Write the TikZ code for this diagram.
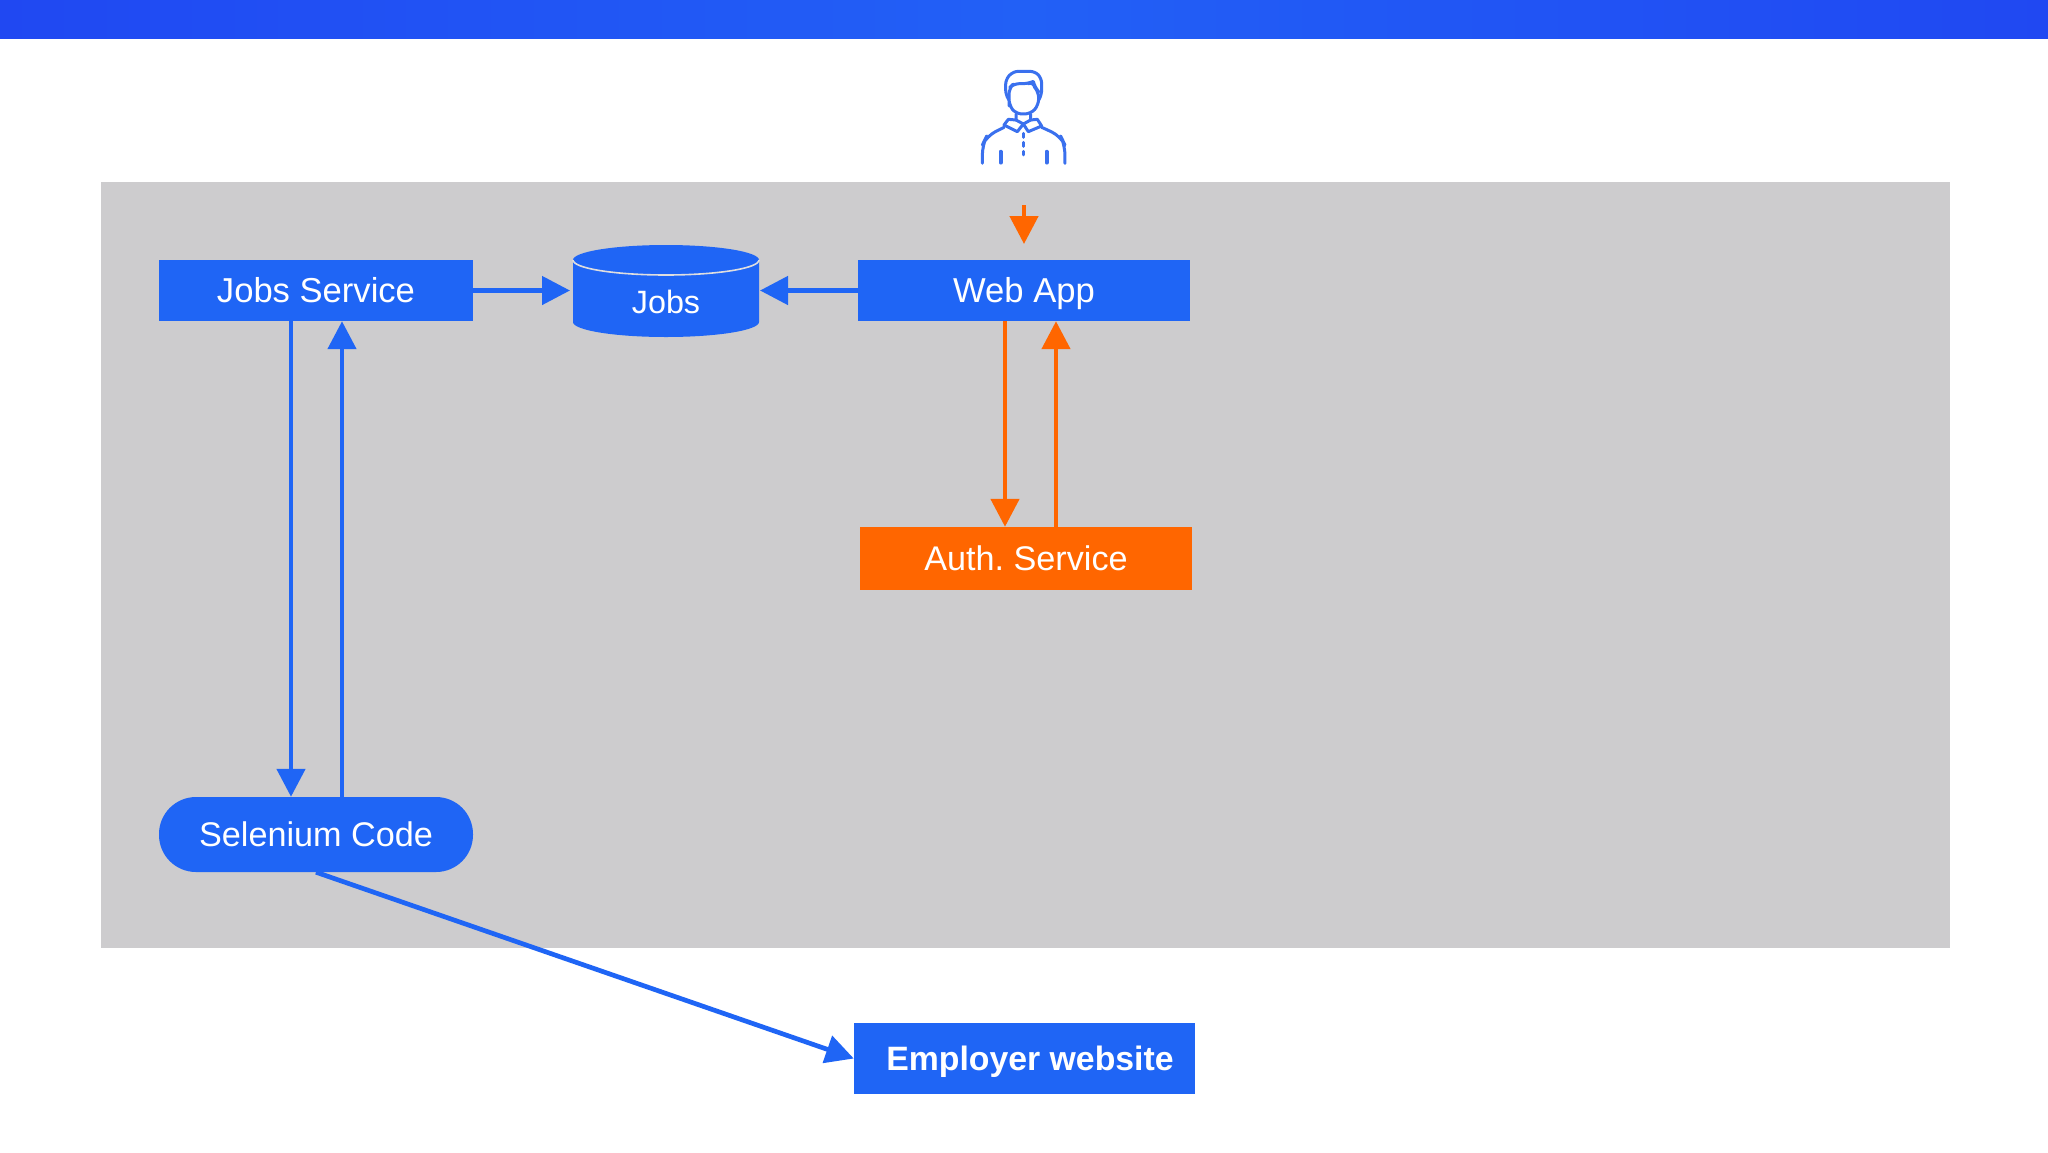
\documentclass[tikz,border=0pt]{standalone}
\usepackage{fontspec}
\setmainfont{Liberation Sans}
\usetikzlibrary{arrows.meta,shapes.geometric}
\definecolor{brandblue}{HTML}{1F65F5}
\definecolor{barblue}{HTML}{2048F2}
\definecolor{barmid}{HTML}{2260F6}
\definecolor{brandorange}{HTML}{FF6600}
\definecolor{panelgray}{HTML}{CDCCCE}
\definecolor{iconblue}{HTML}{3A70EE}
\tikzset{
  label text/.style={text=white,font=\fontsize{34.2}{40}\selectfont\frenchspacing,text height=23,text depth=0},
  box/.style={rectangle,fill=brandblue,minimum width=#1,minimum height=61,inner sep=0,label text},
  orangebox/.style={rectangle,fill=brandorange,minimum width=332,minimum height=63,inner sep=0,label text},
  pill/.style={rectangle,rounded corners=37,fill=brandblue,minimum width=314,minimum height=75,inner sep=0,label text},
  conn/.style={line width=4.7,-{Triangle[length=28,width=28]},brandblue},
  connor/.style={conn,brandorange},
  icon/.style={draw=iconblue,line width=3,line join=round,line cap=round},
}
\begin{document}
\begin{tikzpicture}[x=1pt,y=-1pt]
\useasboundingbox (0,0) rectangle (2048,1152);
\fill[white] (0,0) rectangle (2048,1152);
\fill[left color=barblue,right color=barblue,middle color=barmid] (0,0) rectangle (2048,38);
\fill[panelgray] (100.5,182) rectangle (1950,948);
% person icon
\begin{scope}[shift={(940,50)},x=0.3333pt,y=-0.3333pt]
\draw[icon,rounded corners=5] (207,150) -- (197,135) -- (197,88) -- (220,64) -- (285,64) -- (305,85) -- (305,135) -- (296,150);
\draw[icon,rounded corners=6] (207,150) -- (207,115) -- (222,100) -- (262,102) -- (280,94) -- (284,112) -- (296,125) -- (296,165) -- (272,192) -- (228,192) -- (207,165) -- cycle;
\draw[icon] (228,192) -- (228,210) -- (250,222) -- (272,210) -- (272,192);
\draw[icon] (228,210) -- (205,208) -- (192,225) -- (232,245) -- (250,222) -- (265,245) -- (305,228) -- (292,208) -- (272,210);
\draw[icon,rounded corners=10] (127,340) -- (127,285) -- (140,258) -- (192,232);
\draw[icon,rounded corners=10] (375,340) -- (375,285) -- (362,258) -- (305,232);
\draw[icon,line width=3.8] (182,305) -- (182,338);
\draw[icon,line width=3.8] (320,305) -- (320,338);
\draw[icon,dashed,dash pattern=on 4pt off 5pt] (250,250) -- (250,315);
\end{scope}
% nodes
\node[box=314,font=\fontsize{34.6}{40}\selectfont] (jobsvc) at (316,290.5) {Jobs Service};
\node[box=332,font=\fontsize{34.6}{40}\selectfont] (webapp) at (1024,290.5) {Web App};
\node[orangebox] (auth) at (1026,558.5) {Auth. Service};
\node[pill] (selenium) at (316,834.5) {Selenium Code};
\node[box=341,minimum height=71,font=\bfseries\fontsize{33.8}{40}\selectfont] (employer) at (1024.5,1058.5) {\hspace*{11pt}Employer website};
% database
\coordinate (dbc) at (666,260);
\fill[brandblue] (573,260) -- (759,260) -- (759,322) arc[start angle=0,end angle=180,x radius=93,y radius=15] -- cycle;
\fill[brandblue] (dbc) ellipse[x radius=93,y radius=15];
\draw[white!35!panelgray,line width=1.6] (573,260) arc[start angle=180,end angle=0,x radius=93,y radius=15];
\node[label text,font=\fontsize{32.3}{38}\selectfont,inner sep=0] (jobsdb) at (666,302) {Jobs};
\coordinate (dbw) at (570,290.5);
\coordinate (dbe) at (760,290.5);
% connectors
\draw[conn] (jobsvc.east) -- (dbw);
\draw[conn] (webapp.west) -- (dbe);
\coordinate (uTop) at (1024,205);
\draw[connor] (uTop) -- (1024,244);
\draw[connor] (webapp.south -| 1005,0) -- (auth.north -| 1005,0);
\draw[connor] (auth.north -| 1056,0) -- (webapp.south -| 1056,0);
\draw[conn] (jobsvc.south -| 291,0) -- (selenium.north -| 291,0);
\draw[conn] (selenium.north -| 342,0) -- (jobsvc.south -| 342,0);
\draw[conn] (selenium.south) -- (employer.west);
\end{tikzpicture}
\end{document}
